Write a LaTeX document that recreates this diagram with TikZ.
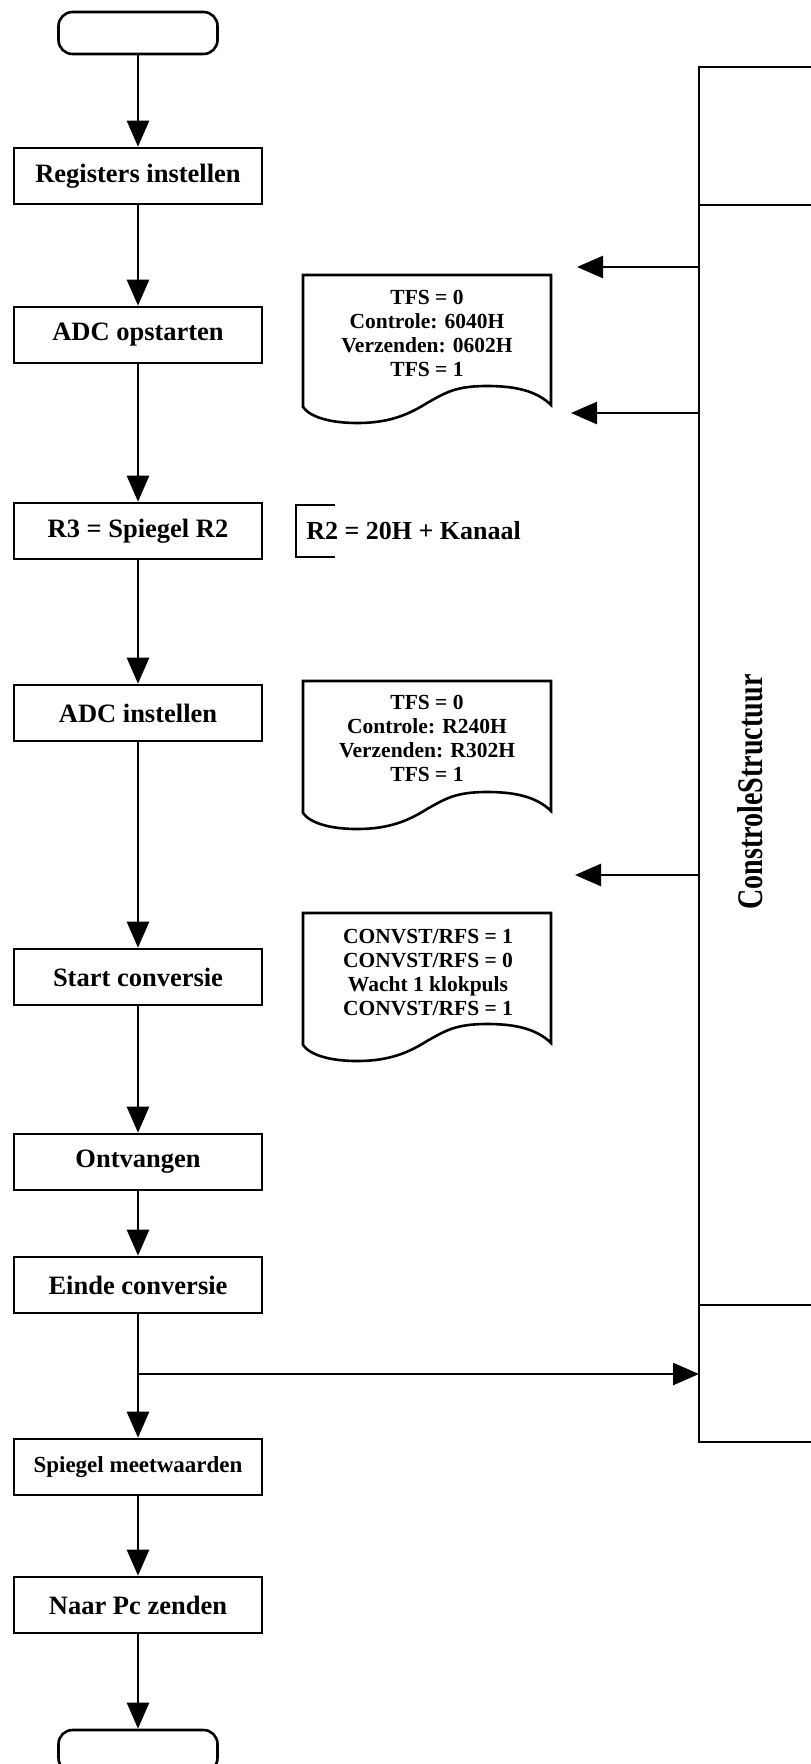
\documentclass[tikz,border=0pt]{standalone}
\usepackage{fontspec}
\setmainfont{Liberation Serif}
\usetikzlibrary{arrows.meta}

\begin{document}
\begin{tikzpicture}[x=1pt,y=-1pt,line width=2.6pt,
	blok/.style={draw, rectangle, minimum width=248pt, minimum height=56pt, font=\fontsize{26.5}{30}\selectfont\bfseries},
	eind/.style={draw, rectangle, rounded corners=14pt, minimum width=159pt, minimum height=42pt},
	memo/.style={align=center, font=\fontsize{21.5}{24}\selectfont\bfseries},
	pijl/.style={-{Triangle[length=26pt,width=22pt]}}]

		\useasboundingbox (0,0) rectangle (811,1764);

		% Begin en einde
		\node[eind] (begin) at (138,33) {};
		\node[eind] (stop) at (138,1751) {};

		% Stappen van het programma
		\node[blok] (reg) at (138,176) {Registers instellen};
		\node[blok] (adcop) at (138,335) {ADC opstarten};
		\node[blok] (r3) at (138,531) {R3 = Spiegel R2};
		\node[blok] (adcin) at (138,713) {ADC instellen};
		\node[blok] (start) at (138,977) {Start conversie};
		\node[blok] (ontv) at (138,1162) {Ontvangen};
		\node[blok] (einde) at (138,1285) {Einde conversie};
		\node[blok, font=\fontsize{23}{27}\selectfont\bfseries] (spiegel) at (138,1467) {Spiegel meetwaarden};
		\node[blok] (naarpc) at (138,1605) {Naar Pc zenden};

		% Pijlen tussen de stappen
		\foreach \a/\b in {begin/reg, reg/adcop, adcop/r3, r3/adcin, adcin/start,
			start/ontv, ontv/einde, einde/spiegel, spiegel/naarpc, naarpc/stop}
			\draw[pijl] (\a) -- (\b);

		% Documenten met golvende onderkant
		\foreach \t in {275,681,913}
			\draw (303,\t) -- (551,\t) -- (551,\t+130)
			.. controls (535,\t+114) and (510,\t+111) .. (487,\t+111)
			.. controls (455,\t+111) and (445,\t+118) .. (427,\t+128)
			.. controls (405,\t+142) and (385,\t+148) .. (357,\t+148)
			.. controls (330,\t+148) and (310,\t+142) .. (303,\t+132) -- cycle;
		\node[memo] (noot1) at (427,333) {TFS = 0\\Controle: 6040H\\Verzenden: 0602H\\TFS = 1};
		\node[memo] (noot2) at (427,738) {TFS = 0\\Controle: R240H\\Verzenden: R302H\\TFS = 1};
		\node[memo] (noot3) at (428,973) {CONVST/RFS = 1\\CONVST/RFS = 0\\Wacht 1 klokpuls\\CONVST/RFS = 1};

		% Commentaar bij R3
		\draw (335,505) -- (296,505) -- (296,557) -- (335,557);
		\node[anchor=west, inner sep=0pt, font=\fontsize{26}{30}\selectfont\bfseries] (kanaal) at (305,531) {R2 = 20H + Kanaal};

		% Controlestructuur rechts
		\draw (811,67) -- (699,67) -- (699,1442) -- (811,1442);
		\draw (699,205) -- (811,205);
		\draw (699,1305) -- (811,1305);
		\node[rotate=90, font=\fontsize{36}{40}\selectfont\bfseries] (ctrl) at (750,792) {\scalebox{0.78}[1]{ConstroleStructuur}};

		% Pijlen van en naar de controlestructuur
		\coordinate (p1) at (699,267); \coordinate (q1) at (577,267);
		\coordinate (p2) at (699,413); \coordinate (q2) at (571,413);
		\coordinate (p3) at (699,875); \coordinate (q3) at (575,875);
		\coordinate (tak) at (138,1374); \coordinate (p4) at (699,1374);
		\draw[pijl] (p1) -- (q1);
		\draw[pijl] (p2) -- (q2);
		\draw[pijl] (p3) -- (q3);
		\draw[pijl] (tak) -- (p4);

\end{tikzpicture}
\end{document}
